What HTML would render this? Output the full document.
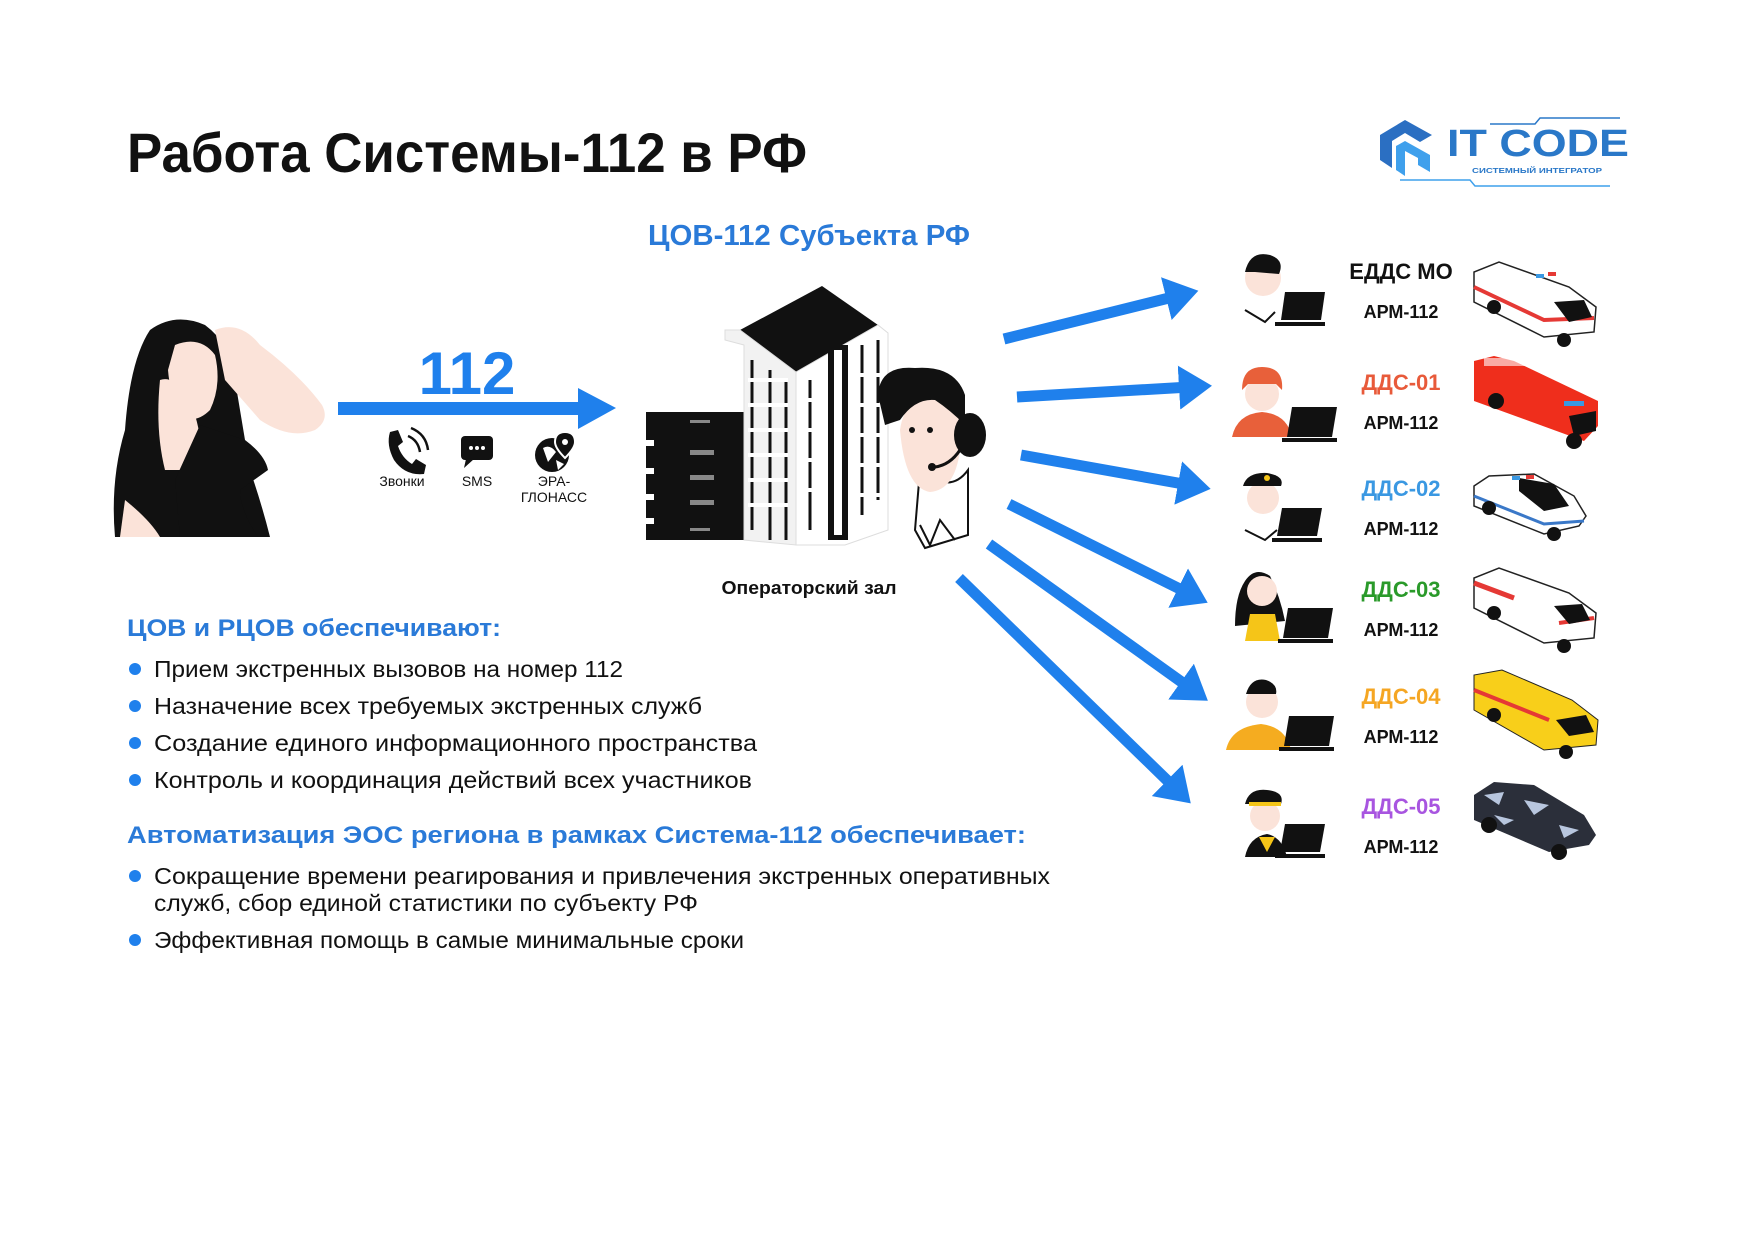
<!DOCTYPE html>
<html><head><meta charset="utf-8"><style>
html,body{margin:0;padding:0;background:#fff;}
svg{display:block;}
text{font-family:"Liberation Sans",sans-serif;}
</style></head><body>
<svg width="1754" height="1240" viewBox="0 0 1754 1240" xmlns="http://www.w3.org/2000/svg">
<defs>
<marker id="ah" markerWidth="4" markerHeight="4" refX="1" refY="2" orient="auto" markerUnits="strokeWidth">
<path d="M0,0 L3,2 L0,4 Z" fill="#1f80ec"/></marker>
</defs>
<rect width="1754" height="1240" fill="#fff"/>

<!-- Title -->
<text x="127" y="172" font-size="56" font-weight="bold" fill="#111" textLength="680" lengthAdjust="spacingAndGlyphs">Работа Системы-112 в РФ</text>

<!-- Logo -->
<g>
<path d="M1380,135 L1405,120 L1432,135 L1420,142 L1405,133 L1392,141 L1392,168 L1380,160 Z" fill="#2b6fc2"/>
<path d="M1396,146 L1405,141 L1430,155 L1430,172 L1418,165 L1418,158 L1405,151 L1405,176 L1396,170 Z" fill="#3fa0ec"/>
<text x="1447" y="156" font-size="38" font-weight="bold" fill="#2a78c8" textLength="182" lengthAdjust="spacingAndGlyphs">IT CODE</text>
<text x="1472" y="173" font-size="7" font-weight="bold" fill="#2a78c8" textLength="130" lengthAdjust="spacingAndGlyphs">СИСТЕМНЫЙ ИНТЕГРАТОР</text>
<path d="M1490,124 L1535,124 L1540,118 L1620,118" stroke="#2a78c8" stroke-width="1.5" fill="none"/>
<path d="M1400,180 L1470,180 L1475,186 L1610,186" stroke="#3fa0ec" stroke-width="1.5" fill="none"/>
</g>

<!-- ЦОВ-112 title -->
<text x="809" y="245" font-size="29" font-weight="bold" fill="#2a7ad8" text-anchor="middle" textLength="322" lengthAdjust="spacingAndGlyphs">ЦОВ-112 Субъекта РФ</text>

<!-- Woman -->
<g>
<path d="M150,330 Q175,312 205,325 Q232,345 235,380 L250,470 Q262,505 270,537 L115,537 Q110,480 125,430 Q130,360 150,330 Z" fill="#111"/>
<path d="M175,345 Q200,335 215,355 Q222,385 210,410 Q195,425 180,415 Q170,395 168,370 Z" fill="#fbe3d9"/>
<path d="M215,330 Q240,320 260,345 Q300,375 322,405 Q330,420 315,430 Q290,440 260,420 L225,380 Z" fill="#fbe3d9"/>
<path d="M160,380 Q175,375 190,400 Q205,440 200,470 L165,470 Q155,430 160,380 Z" fill="#fbe3d9"/>
<path d="M200,425 L245,440 Q265,455 268,470 L240,490 Q240,510 258,537 L180,537 L175,480 Z" fill="#111"/>
<path d="M125,500 Q150,520 160,537 L120,537 Z" fill="#fbe3d9"/>
</g>

<!-- 112 arrow -->
<text x="467" y="394" font-size="60" font-weight="bold" fill="#1f80ec" text-anchor="middle">112</text>
<rect x="338" y="402" width="242" height="13" fill="#1f80ec"/>
<path d="M578,388 L616,408 L578,429 Z" fill="#1f80ec"/>

<!-- icons -->
<g fill="#111">
<path d="M390,432 L398,430 L403,442 L398,446 Q402,458 412,464 L416,459 L426,465 L424,474 Q405,476 394,460 Q386,445 390,432 Z"/>
<path d="M408,436 Q418,440 420,452" stroke="#111" stroke-width="2.5" fill="none"/>
<path d="M411,428 Q426,434 428,450" stroke="#111" stroke-width="2.5" fill="none"/>
<rect x="461" y="436" width="32" height="24" rx="4"/>
<path d="M466,459 L464,468 L474,459 Z"/>
<circle cx="471" cy="448" r="2" fill="#fff"/><circle cx="477" cy="448" r="2" fill="#fff"/><circle cx="483" cy="448" r="2" fill="#fff"/>
<circle cx="552" cy="455" r="17"/>
<path d="M543,448 Q550,444 556,452 L548,462 Z M556,460 L564,464 L558,470 Z" fill="#fff"/>
<path d="M565,432 Q575,432 575,442 Q575,448 565,458 Q555,448 555,442 Q555,432 565,432 Z" stroke="#fff" stroke-width="2"/>
<circle cx="565" cy="442" r="3" fill="#fff"/>
</g>
<g font-size="14" fill="#111" text-anchor="middle">
<text x="402" y="486">Звонки</text>
<text x="477" y="486">SMS</text>
<text x="554" y="486">ЭРА-</text>
<text x="554" y="502">ГЛОНАСС</text>
</g>

<!-- servers -->
<g>
<rect x="646" y="412" width="98" height="128" fill="#111"/>
<g fill="#fff"><rect x="646" y="440" width="8" height="6"/><rect x="646" y="468" width="8" height="6"/><rect x="646" y="494" width="8" height="6"/><rect x="646" y="518" width="8" height="6"/></g>
<g fill="#888"><rect x="690" y="420" width="20" height="3"/><rect x="690" y="450" width="24" height="5"/><rect x="690" y="475" width="24" height="5"/><rect x="690" y="500" width="24" height="5"/><rect x="690" y="528" width="20" height="3"/></g>
</g>
<!-- building -->
<g>
<path d="M740,330 L822,286 L878,325 L796,372 Z" fill="#111"/>
<path d="M725,330 L740,330 L796,372 L796,545 L744,540 L744,345 L725,340 Z" fill="#f2f2f2" stroke="#ddd"/>
<path d="M796,372 L878,325 L888,333 L888,530 L845,545 L796,545 Z" fill="#fff" stroke="#ddd"/>
<rect x="828" y="345" width="20" height="195" fill="#111"/>
<rect x="834" y="350" width="8" height="185" fill="#fff"/>
<g stroke="#111" stroke-width="3">
<path d="M752,360 v170 M770,370 v170 M786,380 v160 M810,380 v150 M862,345 v170 M878,340 v160"/>
</g>
<g stroke="#fff" stroke-width="4">
<path d="M748,380 h40 M748,405 h40 M748,430 h40 M748,455 h40 M748,480 h40 M748,505 h40 M806,400 h12 M806,430 h12 M806,460 h12 M806,490 h12 M858,375 h24 M858,405 h24 M858,435 h24 M858,465 h24 M858,495 h24"/>
</g>
</g>
<!-- operator -->
<g>
<path d="M920,470 Q950,495 968,470 L968,535 L925,548 L915,530 Z" fill="#fff" stroke="#111" stroke-width="2"/>
<path d="M900,430 Q905,395 935,395 Q965,400 960,450 Q955,490 930,492 Q905,488 900,430 Z" fill="#fbe3d9"/>
<path d="M878,395 Q880,365 915,368 Q955,365 965,395 L965,425 Q950,410 935,400 Q915,398 900,420 L885,425 Z" fill="#111"/>
<ellipse cx="970" cy="435" rx="16" ry="22" fill="#111"/>
<path d="M960,450 Q950,465 935,467" stroke="#111" stroke-width="3" fill="none"/>
<circle cx="932" cy="467" r="4" fill="#111"/>
<circle cx="912" cy="430" r="3" fill="#111"/><circle cx="930" cy="430" r="3" fill="#111"/>
<path d="M920,525 L930,545 L940,520 L955,540" stroke="#111" stroke-width="2" fill="none"/>
</g>
<text x="809" y="594" font-size="18" font-weight="bold" fill="#111" text-anchor="middle" textLength="175" lengthAdjust="spacingAndGlyphs">Операторский зал</text>

<!-- fan arrows -->
<g stroke="#1f80ec" stroke-width="11" fill="none" marker-end="url(#ah)">
<line x1="1004" y1="339" x2="1177" y2="296"/>
<line x1="1017" y1="397" x2="1190" y2="387"/>
<line x1="1021" y1="455" x2="1189" y2="485"/>
<line x1="1009" y1="504" x2="1188" y2="593"/>
<line x1="989" y1="544" x2="1190" y2="688"/>
<line x1="959" y1="578" x2="1175" y2="788"/>
</g>

<!-- right column -->
<g font-weight="bold" text-anchor="middle">
<text x="1401" y="279" font-size="22" fill="#111">ЕДДС МО</text>
<text x="1401" y="390" font-size="22" fill="#e85a3a">ДДС-01</text>
<text x="1401" y="496" font-size="22" fill="#3a98e2">ДДС-02</text>
<text x="1401" y="597" font-size="22" fill="#2a9a2a">ДДС-03</text>
<text x="1401" y="704" font-size="22" fill="#f5a623">ДДС-04</text>
<text x="1401" y="814" font-size="22" fill="#a855e0">ДДС-05</text>
<g font-size="18" fill="#111">
<text x="1401" y="318">АРМ-112</text>
<text x="1401" y="429">АРМ-112</text>
<text x="1401" y="535">АРМ-112</text>
<text x="1401" y="636">АРМ-112</text>
<text x="1401" y="743">АРМ-112</text>
<text x="1401" y="853">АРМ-112</text>
</g>
</g>

<!-- persons -->
<g id="persons">
<!-- 1 -->
<g transform="translate(1235,250)">
<circle cx="28" cy="28" r="18" fill="#fbe3d9"/><path d="M10,22 Q15,0 35,5 Q50,10 44,24 L20,22 Z" fill="#111"/>
<path d="M10,60 L30,72 L40,62" stroke="#111" fill="none" stroke-width="2"/>
<path d="M50,42 L90,42 L86,70 L46,70 Z" fill="#111"/><rect x="40" y="72" width="50" height="4" fill="#111"/></g>
<!-- 2 -->
<g transform="translate(1232,362)">
<path d="M0,75 Q5,52 30,50 Q55,52 60,75 Z" fill="#e8603a"/>
<circle cx="30" cy="32" r="17" fill="#fbe3d9"/><path d="M10,28 Q10,5 30,5 Q52,5 50,28 L44,22 L16,22 Z" fill="#e8603a"/>
<path d="M60,45 L105,45 L100,75 L55,75 Z" fill="#111"/><rect x="50" y="76" width="55" height="4" fill="#111"/></g>
<!-- 3 -->
<g transform="translate(1237,468)">
<circle cx="26" cy="30" r="16" fill="#fbe3d9"/><path d="M6,18 Q10,4 30,5 Q48,8 44,18 Z" fill="#111"/><circle cx="30" cy="10" r="3" fill="#f5c518"/>
<path d="M8,62 L28,72 L40,62" stroke="#111" fill="none" stroke-width="2"/>
<path d="M45,40 L85,40 L80,68 L40,68 Z" fill="#111"/><rect x="35" y="70" width="50" height="4" fill="#111"/></g>
<!-- 4 -->
<g transform="translate(1230,566)">
<path d="M15,15 Q25,0 40,10 Q50,30 55,55 L5,60 Q5,30 15,15 Z" fill="#111"/>
<circle cx="32" cy="25" r="15" fill="#fbe3d9"/>
<path d="M15,75 L20,48 L45,48 L50,75 Z" fill="#f5c518"/>
<path d="M58,42 L103,42 L98,72 L53,72 Z" fill="#111"/><rect x="48" y="73" width="55" height="4" fill="#111"/></g>
<!-- 5 -->
<g transform="translate(1226,672)">
<path d="M0,78 Q5,55 35,52 Q60,55 65,78 Z" fill="#f5ac20"/>
<circle cx="36" cy="30" r="16" fill="#fbe3d9"/><path d="M20,22 Q25,5 40,8 Q52,12 50,22 Z" fill="#111"/>
<path d="M63,44 L108,44 L103,74 L58,74 Z" fill="#111"/><rect x="53" y="75" width="55" height="4" fill="#111"/></g>
<!-- 6 -->
<g transform="translate(1237,782)">
<path d="M8,75 Q12,55 30,52 Q45,55 50,75 Z" fill="#111"/><path d="M22,55 L30,70 L38,55 Z" fill="#f5c518"/>
<circle cx="28" cy="34" r="15" fill="#fbe3d9"/><path d="M8,22 Q12,6 30,8 Q48,10 44,22 Z" fill="#111"/><rect x="12" y="20" width="32" height="4" fill="#f5c518"/>
<path d="M48,42 L88,42 L83,70 L43,70 Z" fill="#111"/><rect x="38" y="72" width="50" height="4" fill="#111"/></g>
</g>

<!-- vehicles -->
<g>
<!-- ambulance 1 -->
<g transform="translate(1474,262)">
<path d="M0,10 L0,40 L70,75 L120,70 L122,45 L95,25 L25,0 Z" fill="#fff" stroke="#222" stroke-width="1.5"/>
<path d="M0,25 L70,58 L120,56" stroke="#e53935" stroke-width="4" fill="none"/>
<path d="M80,40 L110,38 L118,55 L95,60 Z" fill="#111"/>
<rect x="62" y="12" width="8" height="4" fill="#3a98e2"/><rect x="74" y="10" width="8" height="4" fill="#e53935"/>
<circle cx="20" cy="45" r="7" fill="#111"/><circle cx="90" cy="78" r="7" fill="#111"/></g>
<!-- fire truck -->
<g transform="translate(1474,356)">
<path d="M0,5 L0,45 L110,85 L124,70 L124,45 L40,5 L20,0 Z" fill="#ef2e1c"/>
<rect x="10" y="2" width="70" height="8" fill="#fff" opacity="0.6"/>
<path d="M95,60 L122,55 L122,75 L100,80 Z" fill="#111"/>
<rect x="90" y="45" width="20" height="5" fill="#3a98e2"/>
<circle cx="22" cy="45" r="8" fill="#111"/><circle cx="100" cy="85" r="8" fill="#111"/></g>
<!-- police car -->
<g transform="translate(1474,466)">
<path d="M0,20 L15,10 L60,8 L100,30 L112,50 L105,60 L70,68 L0,40 Z" fill="#fff" stroke="#222" stroke-width="1.5"/>
<path d="M45,12 L80,18 L95,40 L70,45 L45,25 Z" fill="#111"/>
<path d="M0,30 L70,58 L110,55" stroke="#3a78c8" stroke-width="3" fill="none"/>
<rect x="38" y="10" width="8" height="4" fill="#3a98e2"/><rect x="52" y="9" width="8" height="4" fill="#e53935"/>
<circle cx="15" cy="42" r="7" fill="#111"/><circle cx="80" cy="68" r="7" fill="#111"/></g>
<!-- ambulance 2 -->
<g transform="translate(1474,568)">
<path d="M0,10 L0,40 L70,75 L120,70 L122,45 L95,25 L25,0 Z" fill="#fff" stroke="#222" stroke-width="1.5"/>
<path d="M0,15 L40,30" stroke="#e53935" stroke-width="5"/>
<path d="M85,55 L120,50" stroke="#e53935" stroke-width="4"/>
<path d="M80,38 L108,36 L116,52 L95,56 Z" fill="#111"/>
<circle cx="20" cy="45" r="7" fill="#111"/><circle cx="90" cy="78" r="7" fill="#111"/></g>
<!-- yellow van -->
<g transform="translate(1474,670)">
<path d="M0,5 L0,40 L70,80 L122,75 L124,50 L98,30 L28,0 Z" fill="#f8cf1a" stroke="#222" stroke-width="1"/>
<path d="M0,20 L75,50" stroke="#e53935" stroke-width="4"/>
<path d="M82,50 L112,45 L120,62 L95,66 Z" fill="#111"/>
<circle cx="20" cy="45" r="7" fill="#111"/><circle cx="92" cy="82" r="7" fill="#111"/></g>
<!-- camo suv -->
<g transform="translate(1474,780)">
<path d="M0,15 L20,2 L60,5 L110,35 L122,55 L115,65 L75,72 L0,40 Z" fill="#2b2f3a"/>
<path d="M10,15 L30,12 L25,25 Z M50,20 L75,25 L60,35 Z M85,45 L105,50 L90,58 Z M20,35 L40,40 L30,45 Z" fill="#b8c6de"/>
<circle cx="15" cy="45" r="8" fill="#111"/><circle cx="85" cy="72" r="8" fill="#111"/></g>
</g>

<!-- lists -->
<text x="127" y="636" font-size="24" font-weight="bold" fill="#2a7ad8" textLength="374" lengthAdjust="spacingAndGlyphs">ЦОВ и РЦОВ обеспечивают:</text>
<g fill="#1f80ec"><circle cx="135" cy="669" r="6"/><circle cx="135" cy="706" r="6"/><circle cx="135" cy="743" r="6"/><circle cx="135" cy="780" r="6"/><circle cx="135" cy="876" r="6"/><circle cx="135" cy="940" r="6"/></g>
<g font-size="23" fill="#111">
<text x="154" y="677" textLength="469" lengthAdjust="spacingAndGlyphs">Прием экстренных вызовов на номер 112</text>
<text x="154" y="714" textLength="548" lengthAdjust="spacingAndGlyphs">Назначение всех требуемых экстренных служб</text>
<text x="154" y="751" textLength="603" lengthAdjust="spacingAndGlyphs">Создание единого информационного пространства</text>
<text x="154" y="788" textLength="598" lengthAdjust="spacingAndGlyphs">Контроль и координация действий всех участников</text>
<text x="154" y="884" textLength="896" lengthAdjust="spacingAndGlyphs">Сокращение времени реагирования и привлечения экстренных оперативных</text>
<text x="154" y="911" textLength="544" lengthAdjust="spacingAndGlyphs">служб, сбор единой статистики по субъекту РФ</text>
<text x="154" y="948" textLength="590" lengthAdjust="spacingAndGlyphs">Эффективная помощь в самые минимальные сроки</text>
</g>
<text x="127" y="843" font-size="24" font-weight="bold" fill="#2a7ad8" textLength="899" lengthAdjust="spacingAndGlyphs">Автоматизация ЭОС региона в рамках Система-112 обеспечивает:</text>
</svg>
</body></html>
